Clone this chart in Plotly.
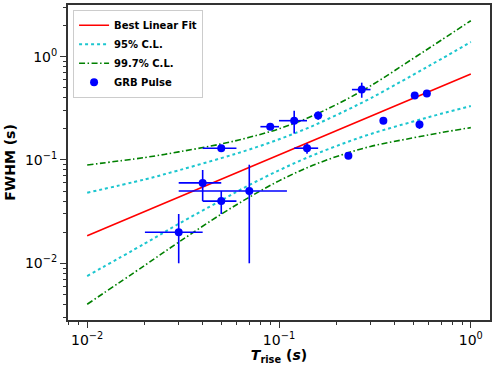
import plotly.graph_objects as go

# best linear fit at its two ends
fit_x = [0.01, 1.0]
fit_y = [0.0185, 0.681]

# confidence bands
band_x = [0.01, 0.02, 0.03, 0.05, 0.07, 0.1, 0.14, 0.2, 0.3, 0.5, 0.7, 1.0]
cl95_upper = [0.0482, 0.0649, 0.0794, 0.1042, 0.1262, 0.1585, 0.2023, 0.2729, 0.3954, 0.667, 0.948, 1.387]
cl95_lower = [0.00753, 0.01556, 0.0241, 0.0407, 0.0572, 0.0794, 0.1052, 0.1368, 0.1782, 0.2355, 0.280, 0.333]
cl997_upper = [0.0895, 0.1057, 0.1197, 0.1429, 0.1656, 0.2004, 0.2535, 0.3451, 0.521, 0.959, 1.442, 2.228]
cl997_lower = [0.00401, 0.00957, 0.0160, 0.0299, 0.0436, 0.0628, 0.0840, 0.1081, 0.1352, 0.1637, 0.1841, 0.2056]

# GRB pulses: rise time, FWHM and their errors
t_rise = [0.03, 0.04, 0.05, 0.07, 0.05, 0.09, 0.12, 0.16, 0.14, 0.27, 0.23, 0.35, 0.51, 0.59, 0.54]
fwhm = [0.02, 0.06, 0.04, 0.05, 0.13, 0.21, 0.24, 0.27, 0.13, 0.48, 0.11, 0.24, 0.42, 0.44, 0.22]
t_rise_err = [0.01, 0.01, 0.01, 0.04, 0.01, 0.01, 0.02, 0.008, 0.02, 0.03, 0, 0, 0, 0, 0.02]
fwhm_err = [0.01, 0.02, 0.01, 0.04, 0.005, 0.01, 0.06, 0.025, 0.015, 0.08, 0, 0, 0, 0, 0.02]

font = "DejaVu Sans"
cyan = "#1cc6cf"
green_dash = "6px,2.5px,1.5px,2.5px"

fig = go.Figure()
fig.add_trace(go.Scatter(x=fit_x, y=fit_y, mode="lines", name="<b>Best Linear Fit</b>",
                         line=dict(color="red", width=1.6)))
fig.add_trace(go.Scatter(x=band_x, y=cl95_upper, mode="lines", name="<b>95% C.L.</b>",
                         line=dict(color=cyan, width=2, dash="dot", shape="spline")))
fig.add_trace(go.Scatter(x=band_x, y=cl95_lower, mode="lines", showlegend=False,
                         line=dict(color=cyan, width=2, dash="dot", shape="spline")))
fig.add_trace(go.Scatter(x=band_x, y=cl997_upper, mode="lines", name="<b>99.7% C.L.</b>",
                         line=dict(color="green", width=1.6, dash=green_dash, shape="spline")))
fig.add_trace(go.Scatter(x=band_x, y=cl997_lower, mode="lines", showlegend=False,
                         line=dict(color="green", width=1.6, dash=green_dash, shape="spline")))
fig.add_trace(go.Scatter(
    x=t_rise, y=fwhm, mode="markers", name="<b>GRB Pulse</b>",
    marker=dict(color="blue", size=8),
    error_x=dict(type="data", array=t_rise_err, color="blue", thickness=1.6, width=0),
    error_y=dict(type="data", array=fwhm_err, color="blue", thickness=1.6, width=0),
))

minor_vals = [m * 10 ** e for e in (-3, -2, -1, 0) for m in range(2, 10)]
log_ticks = [0.01, 0.1, 1]
log_text = ["10<sup>\u22122</sup>", "10<sup>\u22121</sup>", "10<sup>0</sup>"]

axis_common = dict(
    type="log", showgrid=False, zeroline=False, showline=True, mirror=True,
    automargin=False,
    linecolor="#333", linewidth=2, ticks="outside", ticklen=6, tickwidth=1.2,
    tickcolor="#333", tickfont=dict(family=font, size=14, color="black"),
    tickvals=log_ticks, ticktext=log_text,
    minor=dict(tickvals=minor_vals, ticks="outside", ticklen=3, tickwidth=1, tickcolor="#333"),
)

fig.update_xaxes(
    range=[-2.1, 0.1],
    title=dict(text="<b><i>T</i><sub>rise</sub> (<i>s</i>)</b>",
               font=dict(family=font, size=14, color="black"), standoff=2),
    **axis_common,
)
fig.update_yaxes(
    range=[-2.549, 0.5],
    title=dict(text="<b>FWHM (s)</b>", font=dict(family=font, size=14, color="black"), standoff=6),
    **axis_common,
)

fig.update_layout(
    width=498, height=365,
    margin=dict(l=68, r=8, t=5, b=45),
    plot_bgcolor="white", paper_bgcolor="white",
    font=dict(family=font, color="black"),
    legend=dict(x=0.012, y=0.985, xanchor="left", yanchor="top",
                bgcolor="white", bordercolor="#cccccc", borderwidth=1,
                font=dict(family=font, size=10, color="black"),
                itemwidth=30, tracegroupgap=0),
)

# drop the browser's default page margin so the figure sits at the window corner
fig.write_html("out.html", config={"displayModeBar": False},
               post_script="document.body.style.margin = '0';")
